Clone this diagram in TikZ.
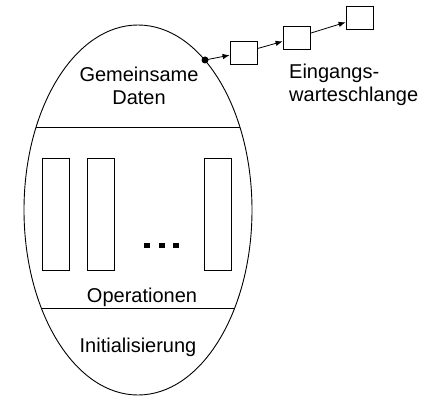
\documentclass[tikz,border=0pt]{standalone}
\usepackage{fontspec}
\setmainfont{Liberation Sans}
\usetikzlibrary{arrows.meta}

\tikzset{
  lbl/.style={font=\fontsize{20}{23}\selectfont, inner sep=0pt},
  op/.style={draw, line width=0.8pt, minimum width=27pt, minimum height=112pt, inner sep=0pt},
  qbox/.style={draw, line width=0.8pt, minimum width=27pt, minimum height=23pt, inner sep=0pt},
  qarr/.style={-{Latex[length=7pt,width=5.5pt]}, line width=0.8pt}
}

\begin{document}
\begin{tikzpicture}[x=1pt,y=-1pt]
  \useasboundingbox (0,0) rectangle (436,396);

  % the monitor and its three parts
  \draw[line width=0.9pt] (138,210) ellipse [x radius=114, y radius=185];
  \begin{scope}
    \clip (138,210) ellipse [x radius=114, y radius=185];
    \draw[line width=0.8pt] (0,127) -- (436,127);
    \draw[line width=0.8pt] (0,308) -- (436,308);
  \end{scope}

  \node[lbl, align=center] (daten) at (139,86) {Gemeinsame\\Daten};

  \node[op] (op1) at (55.5,214) {};
  \node[op] (op2) at (101,214) {};
  \node[op] (opn) at (217.5,214) {};
  \foreach \x in {147,161.5,176}
    \fill (\x-3,243) rectangle (\x+3,248);
  \node[lbl, anchor=base] (ops) at (142,302) {Operationen};

  \node[lbl, anchor=base] (init) at (138,352) {Initialisierung};

  % entry queue
  \coordinate (ein) at (205,60);
  \fill (ein) circle (3.5);
  \node[qbox] (q1) at (243.5,52.5) {};
  \node[qbox] (q2) at (296.5,37.5) {};
  \node[qbox] (q3) at (359.5,18) {};
  \draw[qarr] (ein) -- (q1);
  \draw[qarr] (q1) -- (q2);
  \draw[qarr] (q2) -- (q3);
  \node[lbl, align=left, anchor=west] (queue) at (289,84.5) {Eingangs-\\warteschlange};
\end{tikzpicture}
\end{document}
